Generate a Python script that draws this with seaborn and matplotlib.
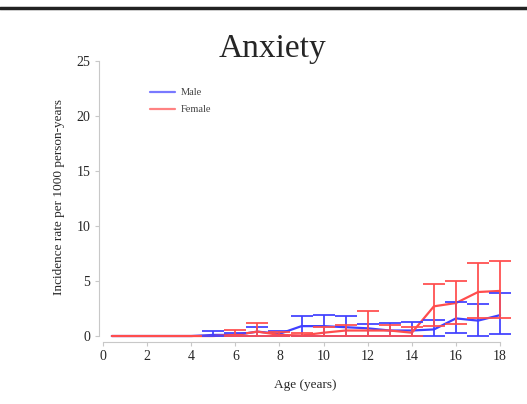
import matplotlib
matplotlib.use("Agg")
import matplotlib.pyplot as plt
import seaborn as sns
import numpy as np
import pandas as pd

# Values
ages = [0.4, 1, 2, 3, 4, 5, 6, 7, 8, 9, 10, 11, 12, 13, 14, 15, 16, 17, 18]

male_rate = [0, 0, 0, 0, 0, 0.1, 0.1, 0.4, 0.2, 0.9, 0.9, 0.8, 0.7, 0.5, 0.5, 0.6, 1.6, 1.4, 1.9]
male_lo = [0, 0, 0, 0, 0, 0, 0, 0, 0, 0, 0, 0, 0, 0, 0, 0, 0.3, 0, 0.2]
male_hi = [0, 0, 0, 0, 0, 0.5, 0.3, 0.8, 0.5, 1.8, 1.9, 1.8, 1.1, 1.2, 1.3, 1.5, 3.1, 2.9, 3.9]

female_rate = [0, 0, 0, 0, 0, 0, 0.1, 0.4, 0.1, 0.05, 0.3, 0.5, 0.5, 0.5, 0.3, 2.7, 3.0, 4.0, 4.1]
female_lo = [0, 0, 0, 0, 0, 0, 0, 0, 0, 0, 0, 0, 0, 0, 0, 0.9, 1.1, 1.6, 1.6]
female_hi = [0, 0, 0, 0, 0, 0, 0.55, 1.2, 0.4, 0.3, 0.8, 1.0, 2.3, 1.0, 0.8, 4.7, 5.0, 6.6, 6.8]

x_ticks = [0, 2, 4, 6, 8, 10, 12, 14, 16, 18]
y_ticks = [0, 5, 10, 15, 20, 25]

sns.set_style("white")
plt.rcParams['font.family'] = ['Liberation Serif', 'DejaVu Serif']

df = pd.DataFrame({
    'Age': ages * 2,
    'Rate': male_rate + female_rate,
    'Sex': ['Male'] * len(ages) + ['Female'] * len(ages),
})

blue = (0.25, 0.25, 1.0)
red = (1.0, 0.3, 0.3)

fig = plt.figure(figsize=(5.27, 4.04), dpi=100)
ax = fig.add_axes([0.1871, 0.1601, 0.7828, 0.7025])

sns.lineplot(data=df, x='Age', y='Rate', hue='Sex', palette={'Male': blue, 'Female': red},
             linewidth=1.6, ax=ax, legend=False)

series = [(male_rate, male_lo, male_hi, blue), (female_rate, female_lo, female_hi, red)]
for rate, lo, hi, col in series:
    rate = np.array(rate)
    lo = np.array(lo)
    hi = np.array(hi)
    keep = hi > 0
    x = np.array(ages)[keep]
    ax.errorbar(x, rate[keep], yerr=[rate[keep] - lo[keep], hi[keep] - rate[keep]],
                fmt='none', ecolor=col, elinewidth=1.4, capsize=8, capthick=1.4, alpha=0.9)

ax.set_xlim(-0.2, 18.5)
ax.set_ylim(-0.3, 25.5)
ax.set_xticks(x_ticks)
ax.set_yticks(y_ticks)
ax.tick_params(axis='both', labelsize=10, length=3, color='#c8c8c8', width=0.8,
               direction='out', bottom=True, left=True, pad=3)

for side in ['top', 'right']:
    ax.spines[side].set_visible(False)
for side in ['left', 'bottom']:
    ax.spines[side].set_color('#c8c8c8')
    ax.spines[side].set_linewidth(0.8)
ax.spines['bottom'].set_position(('outward', 2))
ax.spines['left'].set_bounds(0, 25)
ax.spines['bottom'].set_bounds(0, 18)

ax.set_xlabel('Age (years)', fontsize=9.5, labelpad=11)
ax.set_ylabel('Incidence rate per 1000 person-years', fontsize=9.5, labelpad=8)

fig.text(0.517, 0.859, 'Anxiety', ha='center', va='baseline', fontsize=24)

ax.plot([], [], color=blue, linewidth=1.6, alpha=0.7, label='Male')
ax.plot([], [], color=red, linewidth=1.6, alpha=0.7, label='Female')
ax.legend(loc='upper left', bbox_to_anchor=(0.115, 0.9), frameon=False, fontsize=7.5,
          handlelength=2.4, handletextpad=0.5, labelspacing=0.75, borderaxespad=0,
          labelcolor='#444444')

# thick rule along the top of the picture
fig.add_artist(plt.Line2D([0, 1], [0.979, 0.979], color='#222222', linewidth=2.5,
                          transform=fig.transFigure))

fig.savefig('out.png', dpi=100)
